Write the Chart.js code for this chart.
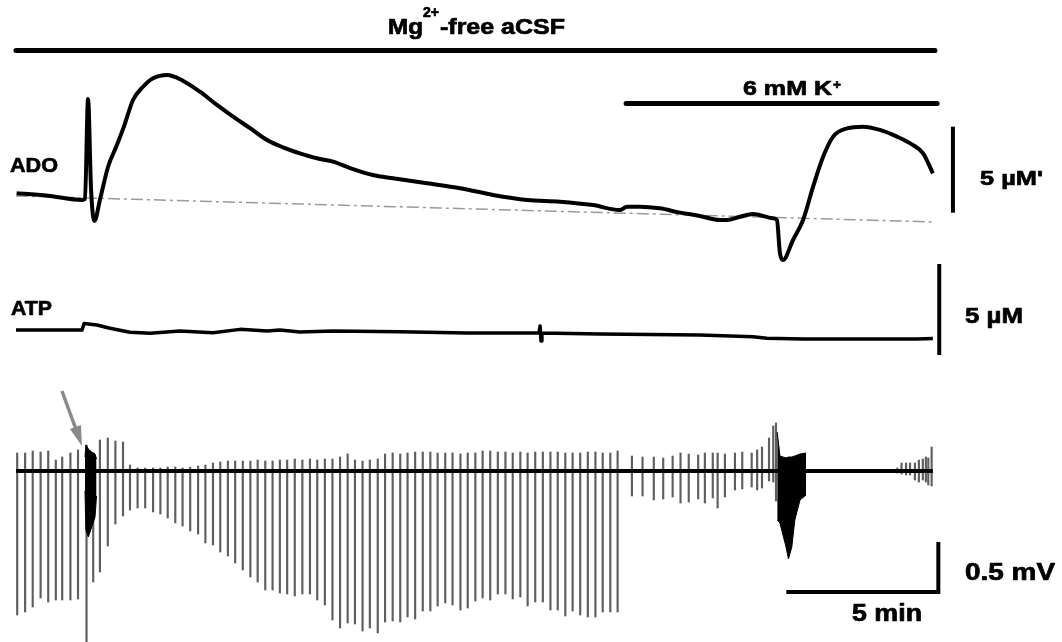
<!DOCTYPE html>
<html>
<head>
<meta charset="utf-8">
<script src="https://cdn.jsdelivr.net/npm/chart.js@4.4.1/dist/chart.umd.min.js"></script>
<style>
  html, body { margin: 0; padding: 0; background: #fff; }
  #wrap { width: 1062px; height: 642px; }
</style>
</head>
<body>
<div id="wrap"><canvas id="trace" width="1062" height="642"></canvas></div>
<script>
// time in minutes from the start of the record
const adoTime = [0.02, 1.12, 2.17, 2.27, 2.37, 2.47, 2.58, 2.76, 3.03, 3.32, 3.55, 3.85, 4.18, 4.51, 4.97,
  5.49, 6.05, 6.61, 7.14, 7.70, 8.26, 8.78, 9.34, 9.90, 10.43, 10.99, 11.74, 12.40, 13.52, 14.61, 15.69,
  16.81, 17.89, 18.98, 19.87, 20.10, 20.53, 21.18, 21.84, 22.50, 23.16, 23.39, 23.82, 24.24, 24.90, 25.03,
  25.13, 25.23, 25.56, 25.89, 26.22, 26.55, 26.88, 27.34, 27.86, 28.42, 28.98, 29.51, 29.84, 30.16];
// ADO signal, µM
const adoValue = [0.22, 0.06, -0.17, -0.12, 5.70, 0.41, -1.40, -0.17, 1.76, 3.02, 4.09, 5.64, 6.41, 6.90, 7.09,
  6.76, 6.12, 5.35, 4.67, 4.00, 3.31, 2.89, 2.54, 2.25, 2.06, 1.68, 1.28, 1.09, 0.80, 0.51, 0.12,
  -0.17, -0.27, -0.47, -0.76, -0.56, -0.56, -0.66, -0.91, -1.10, -1.34, -1.34, -1.15, -0.99, -1.24, -1.34,
  -3.27, -3.66, -2.50, -1.34, 0.60, 2.34, 3.51, 3.99, 4.09, 3.90, 3.51, 3.02, 2.54, 1.38];
// drifting baseline of the ADO sensor
const adoBaseTime = [0, 30.16];
const adoBaseValue = [0.06, -1.45];

const atpTime = [0, 1.12, 2.17, 2.24, 2.66, 3.09, 3.75, 4.41, 5.39, 6.48, 7.37, 8.26, 8.68, 9.34, 10.43,
  12.63, 14.84, 16.58, 17.20, 17.24, 17.27, 17.30, 19.21, 22.50, 24.24, 24.70, 25.89, 29.64, 30.16];
const atpValue = [0.05, 0.05, 0.05, 0.41, 0.33, 0.15, -0.07, -0.13, 0, -0.09, 0.09, 0, 0.05, -0.05, 0,
  -0.04, -0.11, -0.11, -0.11, 0.27, -0.55, -0.11, -0.16, -0.22, -0.31, -0.40, -0.44, -0.44, -0.41];

// field potential (mV): baseline, single events, and the two bursts
const fpBaseTime = [0, 30.16];
const fpBaseValue = [0, 0];

const spikeTime = [0.04, 0.30, 0.55, 0.81, 1.06, 1.31, 1.52, 1.79, 2.04, 2.32, 2.54, 2.76, 3.02, 3.27, 3.52,
  3.75, 4.00, 4.25, 4.51, 4.75, 4.99, 5.24, 5.48, 5.73, 5.99, 6.23, 6.48, 6.72, 6.97, 7.21, 7.46, 7.71, 7.95,
  8.20, 8.44, 8.68, 8.92, 9.17, 9.42, 9.67, 9.91, 10.16, 10.41, 10.66, 10.91, 11.15, 11.40, 11.64, 11.90,
  12.14, 12.39, 12.64, 12.88, 13.13, 13.38, 13.63, 13.87, 14.12, 14.36, 14.62, 14.86, 15.11, 15.35, 15.60,
  15.85, 16.10, 16.34, 16.59, 16.83, 17.08, 17.33, 17.58, 17.82, 18.07, 18.31, 18.56, 18.81, 19.06, 19.30,
  19.55, 19.79, 20.26, 20.61, 20.98, 21.29, 21.60, 21.86, 22.13, 22.44, 22.66, 22.92, 23.08, 23.32, 23.65,
  23.89, 24.20, 24.38, 24.54, 24.77, 24.91, 25.00, 28.99, 29.13, 29.28, 29.41, 29.57, 29.70, 29.83, 29.93,
  30.01, 30.12];
const spikeUp = [0.18, 0.18, 0.20, 0.19, 0.20, 0.11, 0.14, 0.18, 0.21, 0.26, 0.18, 0.31, 0.33, 0.30, 0.29,
  0.06, 0.03, 0.03, 0.03, 0.03, 0.04, 0.04, 0.03, 0.04, 0.05, 0.06, 0.08, 0.09, 0.10, 0.10, 0.10, 0.10, 0.11,
  0.10, 0.10, 0.11, 0.11, 0.12, 0.11, 0.12, 0.11, 0.12, 0.12, 0.14, 0.17, 0.11, 0.10, 0.11, 0.12,
  0.17, 0.18, 0.17, 0.18, 0.19, 0.19, 0.19, 0.18, 0.18, 0.18, 0.17, 0.18, 0.18, 0.20, 0.20,
  0.19, 0.19, 0.18, 0.19, 0.18, 0.19, 0.19, 0.19, 0.19, 0.18, 0.18, 0.18, 0.19, 0.19, 0.18,
  0.18, 0.20, 0.15, 0.14, 0.14, 0.13, 0.15, 0.18, 0.17, 0.16, 0.18, 0.18, 0.18, 0.17, 0.18,
  0.19, 0.18, 0.21, 0.24, 0.33, 0.45, 0.48, 0.03, 0.08, 0.08, 0.08, 0.08, 0.11, 0.12, 0.14,
  0.13, 0.24];
const spikeDown = [-1.44, -1.41, -1.36, -1.27, -1.31, -1.29, -1.29, -1.29, -1.28, -1.71, -1.11, -1.01, -0.75, -0.53, -0.45,
  -0.39, -0.37, -0.37, -0.41, -0.43, -0.47, -0.52, -0.55, -0.60, -0.63, -0.72, -0.74, -0.81, -0.85, -0.92, -0.99, -1.06, -1.11,
  -1.19, -1.19, -1.22, -1.23, -1.25, -1.23, -1.23, -1.29, -1.34, -1.49, -1.57, -1.52, -1.53, -1.60, -1.57, -1.62,
  -1.51, -1.50, -1.51, -1.46, -1.48, -1.40, -1.40, -1.35, -1.32, -1.34, -1.39, -1.37, -1.30, -1.27, -1.29,
  -1.23, -1.23, -1.28, -1.26, -1.35, -1.31, -1.31, -1.39, -1.39, -1.45, -1.40, -1.44, -1.46, -1.46, -1.41,
  -1.41, -1.41, -0.25, -0.25, -0.29, -0.28, -0.26, -0.32, -0.31, -0.28, -0.32, -0.27, -0.37, -0.26, -0.19,
  -0.18, -0.16, -0.19, -0.17, -0.10, -0.11, -0.30, -0.02, -0.03, -0.04, -0.04, -0.09, -0.11, -0.09, -0.11,
  -0.14, -0.15];

const burst1Time = [2.27, 2.30, 2.38, 2.49, 2.60, 2.65];
const burst1Top = [0.14, 0.26, 0.22, 0.19, 0.17, 0.12];
const burst1Bottom = [-0.20, -0.59, -0.66, -0.56, -0.46, -0.25];

const burst2Time = [25.04, 25.13, 25.33, 25.41, 25.52, 25.62, 25.79, 25.99];
const burst2Top = [0.39, 0.15, 0.13, 0.14, 0.14, 0.15, 0.17, 0.18];
const burst2Bottom = [-0.49, -0.52, -0.76, -0.88, -0.76, -0.49, -0.29, -0.24];

// perfusion periods (minutes)
const periodLabel = [['Mg', '2+', '-free aCSF'], ['6 mM K', '+', '']];
const periodStart = [0, 20.07];
const periodEnd = [30.23, 30.30];

// scale bars
const adoScaleBar = 5;   // µM
const atpScaleBar = 5;   // µM
const fpScaleBar = 0.5;  // mV
const timeScaleBar = 5;  // min

const FONT = '"Liberation Sans", Arial, Helvetica, sans-serif';

function pts(xs, ys) {
  return xs.map((x, i) => ({ x: x, y: ys[i] }));
}

// bold label stretched to a given width (the figure's lettering is a bit wide)
function label(ctx, text, x, y, size, width) {
  if (!text) return;
  ctx.font = 'bold ' + size + 'px ' + FONT;
  const w = ctx.measureText(text).width;
  ctx.save();
  ctx.translate(x, y);
  ctx.scale(width ? width / w : 1, 1);
  ctx.lineWidth = 0.7;
  ctx.lineJoin = 'round';
  ctx.fillText(text, 0, 0);
  ctx.strokeText(text, 0, 0);
  ctx.restore();
}

function vbar(ctx, px, py1, py2) {
  ctx.beginPath();
  ctx.moveTo(px, py1);
  ctx.lineTo(px, py2);
  ctx.stroke();
}

const decorations = {
  id: 'decorations',
  afterDatasetsDraw(chart) {
    const ctx = chart.ctx;
    const sx = chart.scales.x, ya = chart.scales.yAdo, yt = chart.scales.yAtp, yf = chart.scales.yFp;
    ctx.save();
    ctx.fillStyle = '#000';
    ctx.strokeStyle = '#000';

    // perfusion bars + their labels
    const barY = [50.5, 103.5];
    const textAt = [[388, 34, 22, 35, 423, 17, 14, 16, 440, 125], [743, 95, 21, 89, 833, 89, 13, 8, 0, 0]];
    periodStart.forEach((s, i) => {
      ctx.lineWidth = 5;
      ctx.lineCap = 'round';
      ctx.beginPath();
      ctx.moveTo(sx.getPixelForValue(s), barY[i]);
      ctx.lineTo(sx.getPixelForValue(periodEnd[i]), barY[i]);
      ctx.stroke();
      const p = textAt[i];
      label(ctx, periodLabel[i][0], p[0], p[1], p[2], p[3]);
      label(ctx, periodLabel[i][1], p[4], p[5], p[6], p[7]);
      label(ctx, periodLabel[i][2], p[8], p[1], p[2], p[9]);
    });

    // trace names
    label(ctx, 'ADO', 10, 172, 21, 48);
    label(ctx, 'ATP', 11, 315, 21, 41);

    // vertical scale bars
    ctx.lineWidth = 4;
    ctx.lineCap = 'butt';
    vbar(ctx, sx.getPixelForValue(30.82), ya.getPixelForValue(4.09), ya.getPixelForValue(4.09 - adoScaleBar));
    vbar(ctx, sx.getPixelForValue(30.37), yt.getPixelForValue(3.68), yt.getPixelForValue(3.68 - atpScaleBar));
    const fx = sx.getPixelForValue(30.34);
    const fTop = yf.getPixelForValue(-0.71);
    const fBot = yf.getPixelForValue(-0.71 - fpScaleBar);
    ctx.lineJoin = 'miter';
    ctx.beginPath();
    ctx.moveTo(fx, fTop);
    ctx.lineTo(fx, fBot);
    ctx.lineTo(sx.getPixelForValue(30.34 - timeScaleBar), fBot);
    ctx.stroke();

    label(ctx, '5 µM\'', 980, 185, 21, 63);
    label(ctx, '5 µM', 965, 323, 22, 58);
    label(ctx, '0.5 mV', 965, 580, 23, 90);
    label(ctx, '5 min', 852, 621, 23, 70);

    // grey arrow pointing at the first burst
    const tipX = sx.getPixelForValue(2.17), tipY = yf.getPixelForValue(0.25);
    ctx.strokeStyle = '#8a8a8a';
    ctx.fillStyle = '#8a8a8a';
    ctx.lineWidth = 3.5;
    ctx.beginPath();
    ctx.moveTo(tipX - 20, tipY - 55);
    ctx.lineTo(tipX - 5, tipY - 14);
    ctx.stroke();
    ctx.beginPath();
    ctx.moveTo(tipX, tipY);
    ctx.lineTo(tipX - 12, tipY - 17);
    ctx.lineTo(tipX - 1, tipY - 21);
    ctx.closePath();
    ctx.fill();
    ctx.restore();
  }
};

const line = { pointRadius: 0, borderColor: '#000', fill: false, borderJoinStyle: 'round' };

new Chart(document.getElementById('trace'), {
  type: 'line',
  data: {
    datasets: [
      Object.assign({ label: 'ADO', data: pts(adoTime, adoValue), yAxisID: 'yAdo', borderWidth: 4,
        cubicInterpolationMode: 'monotone', order: 1 }, line),
      Object.assign({ label: 'ADO baseline', data: pts(adoBaseTime, adoBaseValue), yAxisID: 'yAdo',
        borderWidth: 1.5, borderDash: [12, 4, 3, 4], order: 2 }, line, { borderColor: '#9a9a9a' }),
      Object.assign({ label: 'ATP', data: pts(atpTime, atpValue), yAxisID: 'yAtp', borderWidth: 3.5,
        tension: 0, order: 1 }, line),
      Object.assign({ label: 'Field', data: pts(fpBaseTime, fpBaseValue), yAxisID: 'yFp', borderWidth: 4, order: 1 }, line),
      { type: 'bar', label: 'Events', yAxisID: 'yFp', order: 4,
        data: spikeTime.map((t, i) => ({ x: t, y: [spikeDown[i], spikeUp[i]] })),
        backgroundColor: '#5e5e5e', borderWidth: 0, barThickness: 1.5 },
      Object.assign({ label: 'Burst 1', data: pts(burst1Time, burst1Top), yAxisID: 'yFp', borderWidth: 1, order: 3 },
        line, { fill: '+1', backgroundColor: '#000' }),
      Object.assign({ label: 'Burst 1 low', data: pts(burst1Time, burst1Bottom), yAxisID: 'yFp', borderWidth: 1, order: 3 }, line),
      Object.assign({ label: 'Burst 2', data: pts(burst2Time, burst2Top), yAxisID: 'yFp', borderWidth: 1, order: 3 },
        line, { fill: '+1', backgroundColor: '#000' }),
      Object.assign({ label: 'Burst 2 low', data: pts(burst2Time, burst2Bottom), yAxisID: 'yFp', borderWidth: 1, order: 3 }, line)
    ]
  },
  options: {
    responsive: false,
    animation: false,
    events: [],
    layout: { padding: 0 },
    plugins: { legend: { display: false }, tooltip: { enabled: false } },
    scales: {
      x: { type: 'linear', min: -0.526, max: 34.408, offset: false, display: false },
      yAdo: { type: 'linear', min: -25.872, max: 11.453, display: false },
      yAtp: { type: 'linear', min: -17.088, max: 18.187, display: false },
      yFp: { type: 'linear', min: -1.71, max: 4.71, display: false }
    }
  },
  plugins: [decorations]
});
</script>
</body>
</html>
